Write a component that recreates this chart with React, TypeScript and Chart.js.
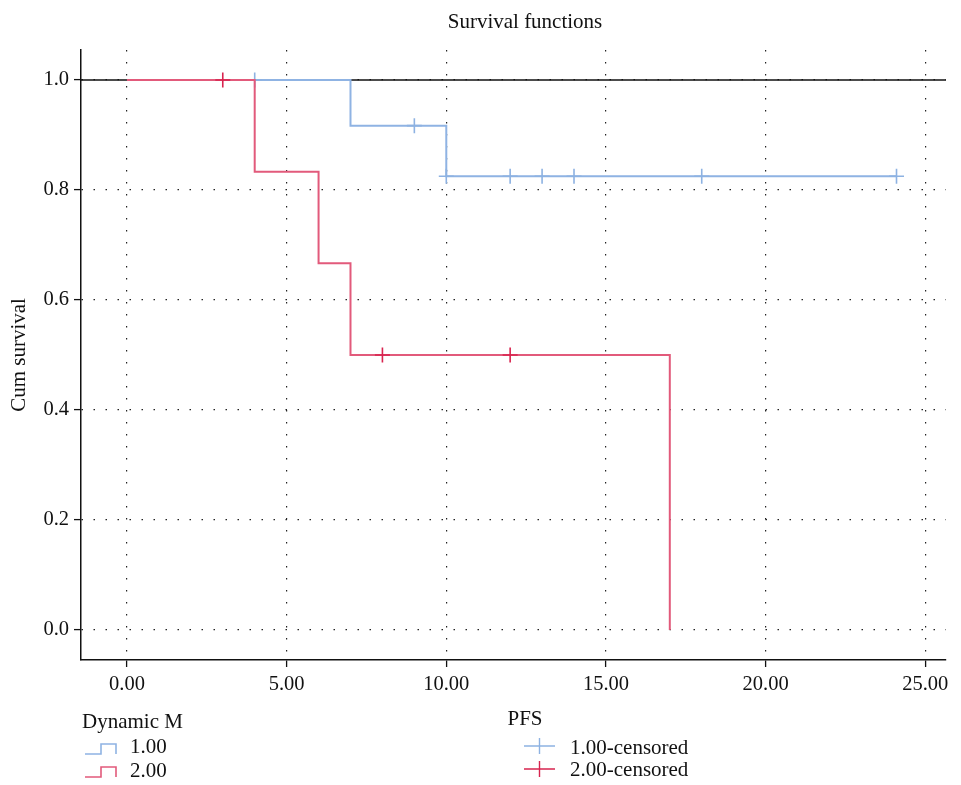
import React, { useEffect, useRef } from "react";
import { Chart, registerables } from "chart.js";

Chart.register(...registerables);

// ---- data ----
const xTickLabels = ["0.00", "5.00", "10.00", "15.00", "20.00", "25.00"];
const yTickLabels = ["0.0", "0.2", "0.4", "0.6", "0.8", "1.0"];

const group1Times = [0, 7, 10, 24.1];
const group1Surv = [1, 0.917, 0.825, 0.825];
const group1CensorTimes = [4, 9, 10, 12, 13, 14, 18, 24.1];
const group1CensorSurv = [1, 0.917, 0.825, 0.825, 0.825, 0.825, 0.825, 0.825];

const group2Times = [0, 4, 6, 7, 17];
const group2Surv = [1, 0.833, 0.667, 0.5, 0];
const group2CensorTimes = [3, 8, 12];
const group2CensorSurv = [1, 0.5, 0.5];

const referenceLevel = 1;
const xRange = [-1.44, 25.65];
const yRange = [-0.0545, 1.0545];

const groupLabels = ["1.00", "2.00"];
const censorLabels = ["1.00-censored", "2.00-censored"];

const BLUE_LINE = "#8fb3e3";
const BLUE_CROSS = "#8db2e2";
const RED_LINE = "#e25a7b";
const RED_CROSS = "#d8244f";
const FONT = "'Liberation Serif', 'DejaVu Serif', serif";

const toPoints = (xs: number[], ys: number[]) => xs.map((x, i) => ({ x, y: ys[i] }));

const textPlugin = {
  id: "textPlugin",
  afterDraw(chart: any) {
    const ctx = chart.ctx as CanvasRenderingContext2D;
    ctx.save();
    ctx.fillStyle = "#111";
    ctx.font = `21px ${FONT}`;
    ctx.textAlign = "center";
    ctx.textBaseline = "alphabetic";
    ctx.fillText("Survival functions", 525, 28);
    ctx.fillText("PFS", 525, 725);

    // y title
    ctx.save();
    ctx.translate(25, 355);
    ctx.rotate(-Math.PI / 2);
    ctx.fillText("Cum survival", 0, 0);
    ctx.restore();

    // legend
    ctx.textAlign = "left";
    ctx.fillText("Dynamic M", 82, 728);
    const stepIcon = (y: number, color: string) => {
      ctx.strokeStyle = color;
      ctx.lineWidth = 1.6;
      ctx.beginPath();
      ctx.moveTo(85, y);
      ctx.lineTo(101, y);
      ctx.lineTo(101, y - 10);
      ctx.lineTo(116, y - 10);
      ctx.lineTo(116, y);
      ctx.stroke();
    };
    stepIcon(754, BLUE_LINE);
    ctx.fillText(groupLabels[0], 130, 753);
    stepIcon(777, RED_LINE);
    ctx.fillText(groupLabels[1], 130, 777);

    const crossIcon = (cy: number, color: string) => {
      ctx.strokeStyle = color;
      ctx.lineWidth = 1.4;
      ctx.beginPath();
      ctx.moveTo(524, cy);
      ctx.lineTo(555, cy);
      ctx.moveTo(539.5, cy - 8);
      ctx.lineTo(539.5, cy + 8);
      ctx.stroke();
    };
    crossIcon(746, BLUE_CROSS);
    ctx.fillText(censorLabels[0], 570, 754);
    crossIcon(769, RED_CROSS);
    ctx.fillText(censorLabels[1], 570, 776);
    ctx.restore();
  },
};

export default function App() {
  const canvasRef = useRef<HTMLCanvasElement | null>(null);

  useEffect(() => {
    document.body.style.margin = "0";
    const canvas = canvasRef.current;
    if (!canvas) return;
    const chart = new Chart(canvas, {
      type: "line",
      data: {
        datasets: [
          {
            label: censorLabels[1],
            data: toPoints(group2CensorTimes, group2CensorSurv),
            showLine: false,
            pointStyle: "cross",
            pointRadius: 7.5,
            pointBorderWidth: 1.6,
            pointBorderColor: RED_CROSS,
            pointBackgroundColor: RED_CROSS,
          },
          {
            label: groupLabels[1],
            data: toPoints(group2Times, group2Surv),
            stepped: true,
            borderColor: RED_LINE,
            borderWidth: 2,
            pointRadius: 0,
            fill: false,
          },
          {
            label: censorLabels[0],
            data: toPoints(group1CensorTimes, group1CensorSurv),
            showLine: false,
            pointStyle: "cross",
            pointRadius: 7.5,
            pointBorderWidth: 1.6,
            pointBorderColor: BLUE_CROSS,
            pointBackgroundColor: BLUE_CROSS,
          },
          {
            label: groupLabels[0],
            data: toPoints(group1Times, group1Surv),
            stepped: true,
            borderColor: BLUE_LINE,
            borderWidth: 2,
            pointRadius: 0,
            fill: false,
          },
          {
            label: "reference",
            data: toPoints(xRange, [referenceLevel, referenceLevel]),
            borderColor: "#111",
            borderWidth: 1.5,
            pointRadius: 0,
            fill: false,
          },
        ],
      },
      options: {
        responsive: false,
        animation: false,
        events: [],
        layout: { padding: { left: 0, right: 15, top: 50, bottom: 0 } },
        plugins: {
          legend: { display: false },
          tooltip: { enabled: false },
          title: { display: false },
        },
        scales: {
          x: {
            type: "linear",
            min: xRange[0],
            max: xRange[1],
            afterFit: (s: any) => {
              s.height = 125;
            },
            ticks: {
              stepSize: 5,
              includeBounds: false,
              autoSkip: false,
              maxRotation: 0,
              padding: 5,
              color: "#111",
              font: { family: FONT, size: 20.5 },
              callback: (v: any) => {
                const i = xTickLabels.indexOf(Number(v).toFixed(2));
                return i >= 0 ? xTickLabels[i] : "";
              },
            },
            grid: {
              color: "#222",
              lineWidth: 1.2,
              tickLength: 7,
              tickColor: "#111",
              tickWidth: 1.3,
              drawTicks: true,
            },
            border: { display: true, color: "#111", width: 1.5, dash: [1.5, 10.5] },
          },
          y: {
            type: "linear",
            min: yRange[0],
            max: yRange[1],
            afterFit: (s: any) => {
              s.width = 81;
            },
            ticks: {
              stepSize: 0.2,
              includeBounds: false,
              autoSkip: false,
              padding: 5,
              color: "#111",
              font: { family: FONT, size: 20.5 },
              callback: (v: any) => {
                const i = yTickLabels.indexOf(Math.abs(Number(v)).toFixed(1));
                return i >= 0 ? yTickLabels[i] : "";
              },
            },
            grid: {
              color: "#222",
              lineWidth: 1.2,
              tickLength: 7,
              tickColor: "#111",
              tickWidth: 1.3,
              drawTicks: true,
            },
            border: { display: true, color: "#111", width: 1.5, dash: [1.5, 10.5] },
          },
        },
      } as any,
      plugins: [textPlugin],
    });
    return () => chart.destroy();
  }, []);

  return (
    <div style={{ position: "absolute", left: 0, top: 0, width: 961, height: 785, background: "#fff" }}>
      <canvas ref={canvasRef} width={961} height={785} style={{ width: 961, height: 785, display: "block" }} />
    </div>
  );
}
